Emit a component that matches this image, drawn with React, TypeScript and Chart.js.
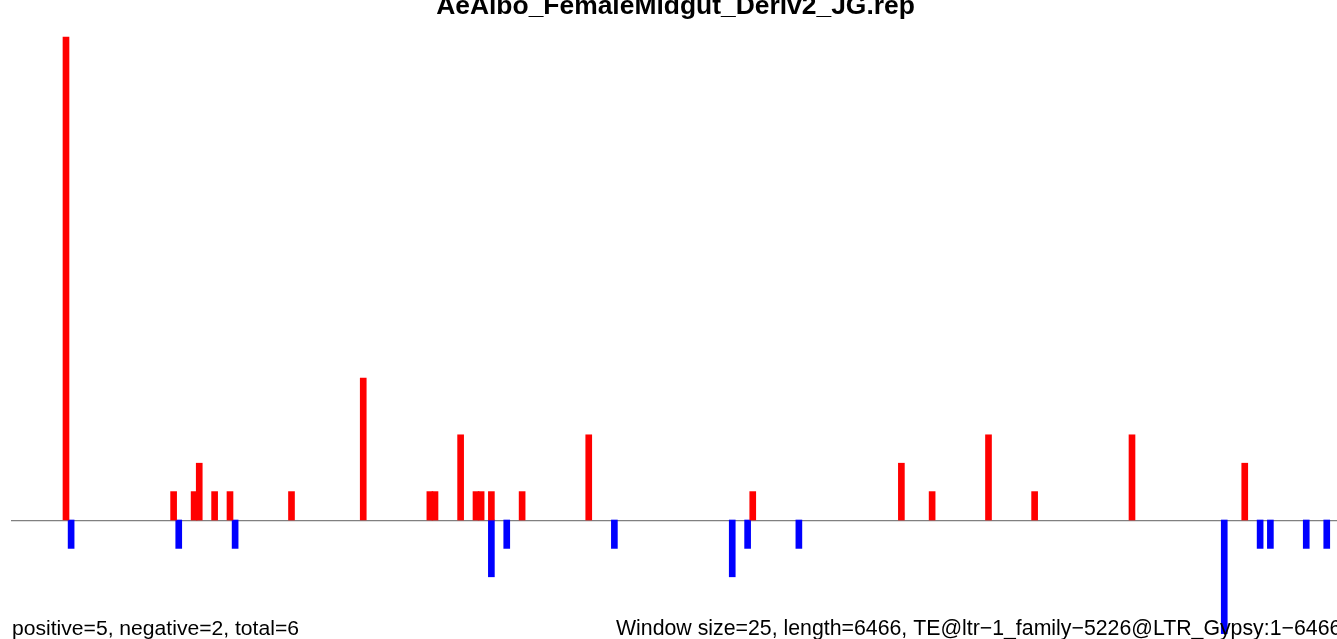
import React, { useEffect, useRef } from "react";
import { Chart, registerables } from "chart.js";

Chart.register(...registerables);

// ---- data ----
const titleText = "AeAlbo_FemaleMidgut_Deriv2_JG.rep";
const leftNote = "positive=5, negative=2, total=6";
const rightNote =
  "Window size=25, length=6466, TE@ltr\u22121_family\u22125226@LTR_Gypsy:1\u22126466";

const positiveWindows = [1, 22, 26, 27, 30, 33, 45, 59, 72, 73, 78, 81, 82, 84, 90, 103, 135, 164, 170, 181, 190, 209, 231];
const positiveCounts = [17, 1, 1, 2, 1, 1, 1, 5, 1, 1, 3, 1, 1, 1, 1, 3, 1, 2, 1, 3, 1, 3, 2];
const negativeWindows = [2, 23, 34, 84, 87, 108, 131, 134, 144, 227, 234, 236, 243, 247];
const negativeCounts = [-1, -1, -1, -2, -1, -1, -2, -1, -1, -4, -1, -1, -1, -1];

const X_MIN = -9.73;
const X_MAX = 249;
const Y_MIN = -4.19;
const Y_MAX = 18.31;

const FONT = '"Liberation Sans", Arial, Helvetica, sans-serif';

function fitSize(ctx: CanvasRenderingContext2D, text: string, weight: string, target: number) {
  ctx.font = `${weight} 100px ${FONT}`;
  const w = ctx.measureText(text).width;
  return (100 * target) / w;
}

const annotPlugin = {
  id: "annot",
  beforeDatasetsDraw(chart: any) {
    const { ctx, chartArea, scales } = chart;
    const y0 = scales.y.getPixelForValue(0);
    ctx.save();
    ctx.strokeStyle = "#808080";
    ctx.lineWidth = 1.2;
    ctx.beginPath();
    ctx.moveTo(chartArea.left, y0 + 0.6);
    ctx.lineTo(chart.width, y0 + 0.6);
    ctx.stroke();
    ctx.restore();
  },
  afterDraw(chart: any) {
    const { ctx } = chart;
    ctx.save();
    ctx.fillStyle = "#000000";
    ctx.textBaseline = "alphabetic";

    const tSize = fitSize(ctx, titleText, "bold", 479);
    ctx.font = `bold ${tSize}px ${FONT}`;
    ctx.textAlign = "center";
    ctx.fillText(titleText, 675.5, 14);

    const nSize = fitSize(ctx, leftNote, "normal", 287);
    ctx.font = `normal ${nSize}px ${FONT}`;
    ctx.textAlign = "left";
    ctx.fillText(leftNote, 12, 635);

    const rSize = fitSize(ctx, rightNote, "normal", 726);
    ctx.font = `normal ${rSize}px ${FONT}`;
    ctx.fillText(rightNote, 616, 635);
    ctx.restore();
  },
};

export default function App() {
  const canvasRef = useRef<HTMLCanvasElement | null>(null);

  useEffect(() => {
    if (!canvasRef.current) return;
    const chart = new Chart(canvasRef.current, {
      type: "bar",
      data: {
        datasets: [
          {
            label: "positive",
            data: positiveWindows.map((x, i) => ({ x, y: positiveCounts[i] })),
            backgroundColor: "#FF0000",
            borderWidth: 0,
            barThickness: 6,
            grouped: false,
          } as any,
          {
            label: "negative",
            data: negativeWindows.map((x, i) => ({ x, y: negativeCounts[i] })),
            backgroundColor: "#0000FF",
            borderWidth: 0,
            barThickness: 6,
            grouped: false,
          } as any,
        ],
      },
      options: {
        animation: false,
        responsive: false,
        maintainAspectRatio: false,
        devicePixelRatio: 1,
        layout: { padding: { left: 11, right: 0, top: 0, bottom: 0 } },
        scales: {
          x: {
            type: "linear",
            min: X_MIN,
            max: X_MAX,
            offset: false,
            bounds: "ticks",
            grid: { offset: false },
            display: false,
          },
          y: { type: "linear", min: Y_MIN, max: Y_MAX, display: false },
        },
        plugins: {
          legend: { display: false },
          tooltip: { enabled: false },
          title: { display: false },
        },
      },
      plugins: [annotPlugin],
    });
    return () => chart.destroy();
  }, []);

  return (
    <div
      style={{
        position: "fixed",
        left: 0,
        top: 0,
        width: 1337,
        height: 639,
        overflow: "hidden",
        background: "#ffffff",
      }}
    >
      <canvas ref={canvasRef} width={1337} height={639} style={{ display: "block" }} />
    </div>
  );
}
